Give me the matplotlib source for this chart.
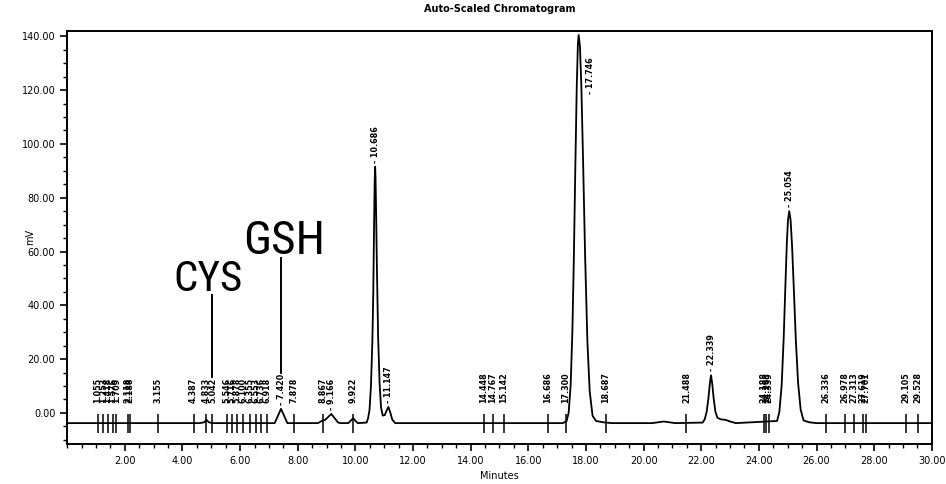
import numpy as np
import matplotlib
matplotlib.use("Agg")
import matplotlib.pyplot as plt
from matplotlib.ticker import MultipleLocator, FormatStrFormatter

# ───────── trace (minutes, mV) ─────────
trace_t = [0.0, 4.60, 4.75, 4.833, 4.92, 5.05,
           7.20, 7.420, 7.64,
           8.70, 8.867, 8.95, 9.166, 9.40, 9.50, 9.75, 9.922, 10.08,
           10.39, 10.44, 10.49, 10.54, 10.59, 10.62, 10.65, 10.67, 10.686, 10.70,
           10.72, 10.75, 10.79, 10.84, 10.89, 10.95, 11.02, 11.08, 11.147, 11.21,
           11.28, 11.38,
           17.20, 17.33, 17.40, 17.47, 17.53, 17.58, 17.63, 17.68, 17.72, 17.746,
           17.79, 17.84, 17.90, 17.97, 18.05, 18.13, 18.23, 18.35, 18.60, 18.90,
           20.30, 20.70, 21.10,
           22.05, 22.12, 22.19, 22.25, 22.30, 22.339, 22.38, 22.43, 22.49, 22.56,
           22.68, 22.85, 23.00, 23.20,
           24.63, 24.71, 24.79, 24.86, 24.92, 24.97, 25.01, 25.054, 25.10, 25.15,
           25.21, 25.28, 25.36, 25.45, 25.55, 25.75, 26.00, 30.0]
trace_mv = [-3.8, -3.8, -3.5, -2.6, -3.5, -3.8,
            -3.8, 1.5, -3.8,
            -3.8, -2.8, -2.6, -0.4, -3.6, -3.8, -3.8, -2.0, -3.8,
            -3.6, -2.0, 1.0, 10.0, 27.0, 44.0, 71.0, 86.0, 91.5, 87.0,
            74.0, 52.0, 28.0, 11.0, 2.0, -1.0, -0.8, 0.8, 2.2, 0.2,
            -2.5, -3.8,
            -3.8, -3.0, 0.1, 10.4, 30.7, 57.5, 90.4, 121.0, 137.0, 140.5,
            136.6, 121.6, 94.0, 58.7, 26.6, 8.0, -1.1, -3.0, -3.5, -3.8,
            -3.8, -3.2, -3.8,
            -3.6, -2.4, 0.5, 5.5, 11.0, 14.0, 11.0, 5.5, 0.5, -1.8,
            -2.4, -2.6, -3.2, -3.8,
            -3.0, 0.3, 10.2, 27.6, 47.4, 63.2, 71.8, 75.0, 71.7, 62.4,
            46.8, 27.7, 11.2, 1.2, -2.8, -3.5, -3.8, -3.8]

# event marks (tick on baseline + retention time)
mark_rt = [1.055, 1.253, 1.418, 1.576, 1.709, 2.118, 2.188, 3.155, 4.387,
           4.833, 5.042, 5.546, 5.716, 5.878, 6.100, 6.355, 6.553, 6.736,
           6.918, 7.878, 8.867, 9.922, 14.448, 14.767, 15.142, 16.686, 17.300,
           18.687, 21.488, 24.188, 24.263, 24.339, 26.336, 26.978, 27.313,
           27.619, 27.701, 29.105, 29.528]
# detected peaks labelled at their apex
peak_rt = [7.420, 9.166, 10.686, 11.147, 17.746, 22.339, 25.054]
peak_shift = [0.0, 0.0, 0.0, 0.0, 0.42, 0.0, 0.0]

# compound annotations: name, retention time, text centre, text baseline, line end
cmp_names = ["CYS", "GSH"]
cmp_rt = [5.042, 7.420]
cmp_text_x = [4.89, 7.53]
cmp_text_y = [45.4, 59.1]
cmp_line_end = [13.5, 15.0]

fig = plt.figure(figsize=(9.46, 4.84), dpi=100)
ax = fig.add_axes([0.071, 0.083, 0.914, 0.853])

ax.plot(trace_t, trace_mv, color="black", lw=1.3, solid_joinstyle="round")

# baseline event ticks and their labels
ax.vlines(mark_rt, -7.3, -0.3, color="black", lw=1.1)
for rt in mark_rt:
    ax.text(rt, 3.6, f"{rt:.3f}", rotation=90, ha="center", va="bottom",
            fontsize=5.8, fontweight="bold")

for rt, dx in zip(peak_rt, peak_shift):
    top = np.interp(rt, trace_t, trace_mv)
    y = top + 1.5 if dx == 0 else top - 22
    ax.text(rt + dx, y, f"- {rt:.3f}", rotation=90, ha="center", va="bottom",
            fontsize=5.8, fontweight="bold")

# big hand-added compound names with leader lines
narrow = ["Roboto Condensed", "Liberation Sans Narrow", "Roboto", "DejaVu Sans"]
for name, rt, tx, ty, ly, fs in zip(cmp_names, cmp_rt, cmp_text_x,
                                    cmp_text_y, cmp_line_end, [31, 34]):
    ax.text(tx, ty, name, ha="center", va="baseline", fontsize=fs,
            family=narrow, fontstretch="condensed")
    ax.plot([rt, rt], [ty - 1.5, ly], color="black", lw=1.4)

ax.set_xlim(0, 30)
ax.set_ylim(-11.5, 142)
ax.set_xticks(np.arange(2, 31, 2))
ax.xaxis.set_minor_locator(MultipleLocator(0.5))
ax.yaxis.set_major_locator(MultipleLocator(20))
ax.yaxis.set_minor_locator(MultipleLocator(5))
ax.xaxis.set_major_formatter(FormatStrFormatter("%.2f"))
ax.yaxis.set_major_formatter(FormatStrFormatter("%.2f"))
ax.tick_params(which="major", length=5, width=1.2, labelsize=7)
ax.tick_params(which="minor", length=3, width=1.0)
for s in ax.spines.values():
    s.set_linewidth(1.4)

ax.set_xlabel("Minutes", fontsize=7, labelpad=4)
ax.set_ylabel("mV", fontsize=7)
ax.yaxis.set_label_coords(-0.037, 0.5)
ax.set_title("Auto-Scaled Chromatogram", fontsize=7, fontweight="bold", pad=14)

fig.savefig("out.png", dpi=100)
